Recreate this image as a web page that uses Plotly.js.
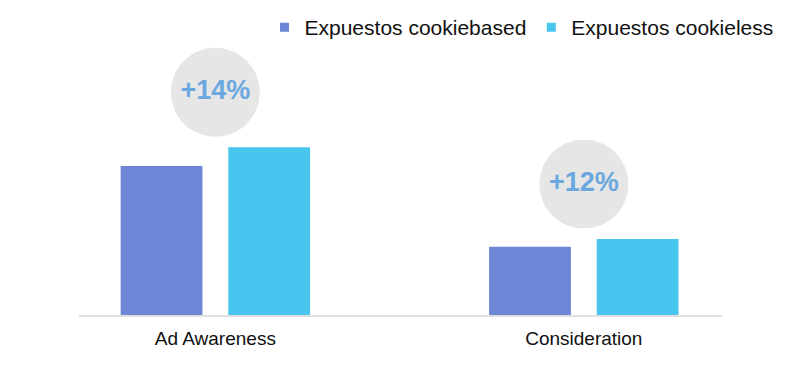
<!DOCTYPE html>
<html>
<head>
<meta charset="utf-8">
<script src="https://cdn.plot.ly/plotly-3.0.1.min.js"></script>
<style>html,body{margin:0;padding:0;background:#fff;}#chart{width:800px;height:367px;}</style>
</head>
<body>
<div id="chart"></div>
<script>
// Data
const categories = ["Ad Awareness", "Consideration"];
const seriesNames = ["Expuestos cookiebased", "Expuestos cookieless"];
const cookiebased = [27.1, 12.4];
const cookieless = [30.5, 13.8];
const liftLabels = ["+14%", "+12%"];

const colors = ["#6d86d5", "#49c6ef"];
const FONT = '"Liberation Sans", Arial, Helvetica, sans-serif';

// bubble sits a fixed distance above the taller bar of each group
const bubbleOffset = 10;
const bubbleY = categories.map((c, i) => Math.max(cookiebased[i], cookieless[i]) + bubbleOffset);

const traces = [
  {type: 'bar', x: categories, y: cookiebased, name: seriesNames[0], legendgroup: 'a', showlegend: false,
   marker: {color: colors[0], line: {width: 0}}, hoverinfo: 'none'},
  {type: 'bar', x: categories, y: cookieless, name: seriesNames[1], legendgroup: 'b', showlegend: false,
   marker: {color: colors[1], line: {width: 0}}, hoverinfo: 'none'},
  {type: 'scatter', mode: 'markers+text', x: categories, y: bubbleY, text: liftLabels,
   textposition: 'middle center', showlegend: false, hoverinfo: 'none', cliponaxis: false,
   marker: {symbol: 'circle', size: 89, color: '#e6e6e6', line: {width: 0}},
   textfont: {family: FONT, size: 27, color: '#6aa8df', weight: 'bold'}},
  // legend entries (small square swatches)
  {type: 'scatter', mode: 'markers', x: [null], y: [null], name: seriesNames[0], legendgroup: 'a',
   marker: {symbol: 'square', size: 9, color: colors[0]}},
  {type: 'scatter', mode: 'markers', x: [null], y: [null], name: seriesNames[1], legendgroup: 'b',
   marker: {symbol: 'square', size: 9, color: colors[1]}}
];

const layout = {
  width: 800, height: 367,
  margin: {l: 79, r: 78, t: 40, b: 52, autoexpand: false},
  paper_bgcolor: '#ffffff', plot_bgcolor: '#ffffff',
  font: {family: FONT, color: '#111111'},
  barmode: 'group', bargap: 0.416, bargroupgap: 0.24,
  showlegend: true,
  legend: {orientation: 'h', x: 0.2885, xanchor: 'left', y: 1.0455, yanchor: 'middle',
           font: {family: FONT, size: 21, color: '#111111'}, bgcolor: 'rgba(0,0,0,0)'},
  xaxis: {type: 'category', range: [-0.37, 1.375], showgrid: false, zeroline: false,
          showline: true, linecolor: '#dedede', linewidth: 1.5, ticks: '',
          ticklabelstandoff: 6, tickfont: {family: FONT, size: 19, color: '#111111'},
          fixedrange: true},
  yaxis: {range: [0, 50], visible: false, showgrid: false, zeroline: false, fixedrange: true}
};

Plotly.newPlot('chart', traces, layout, {displayModeBar: false, staticPlot: true});
</script>
</body>
</html>
